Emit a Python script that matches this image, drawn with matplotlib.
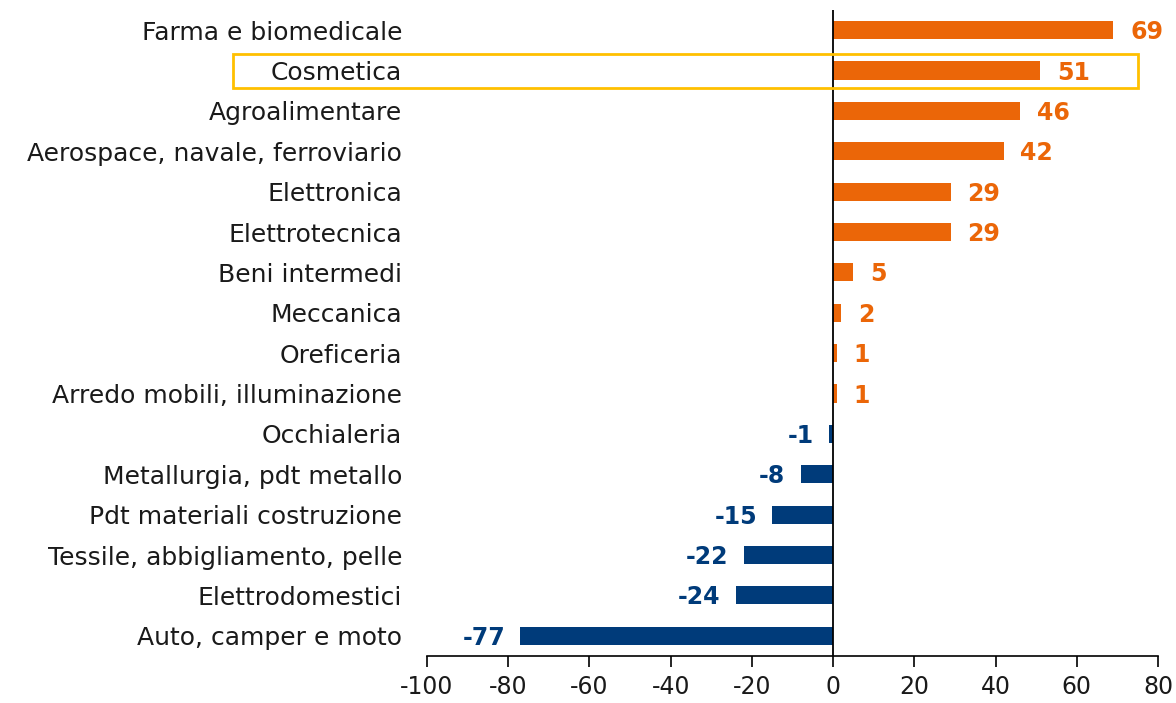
import matplotlib
matplotlib.use("Agg")
import matplotlib.pyplot as plt
from matplotlib.patches import Rectangle
import numpy as np

# Sectors, top to bottom as in the chart
sectors = [
    "Farma e biomedicale", "Cosmetica", "Agroalimentare",
    "Aerospace, navale, ferroviario", "Elettronica", "Elettrotecnica",
    "Beni intermedi", "Meccanica", "Oreficeria",
    "Arredo mobili, illuminazione", "Occhialeria", "Metallurgia, pdt metallo",
    "Pdt materiali costruzione", "Tessile, abbigliamento, pelle",
    "Elettrodomestici", "Auto, camper e moto",
]
values = [69, 51, 46, 42, 29, 29, 5, 2, 1, 1, -1, -8, -15, -22, -24, -77]
highlight = "Cosmetica"

ORANGE = "#EB6608"
NAVY = "#003B7A"
BOX = "#FFC000"

plt.rcParams["font.family"] = ["DejaVu Sans"]
plt.rcParams["axes.unicode_minus"] = False

fig = plt.figure(figsize=(11.76, 7.03), dpi=100)
ax = fig.add_axes([0.3631, 0.0669, 0.6216, 0.9189])

y = np.arange(len(sectors))[::-1]
colors = [ORANGE if v >= 0 else NAVY for v in values]
ax.barh(y, values, height=0.45, color=colors, zorder=2)

for yi, v, c in zip(y, values, colors):
    if v >= 0:
        ax.annotate(str(v), (v, yi), xytext=(12, -1.5), textcoords="offset points",
                    ha="left", va="center", color=c, fontsize=17, fontweight="bold")
    else:
        ax.annotate(str(v), (v, yi), xytext=(-11, -1.5), textcoords="offset points",
                    ha="right", va="center", color=c, fontsize=17, fontweight="bold")

ax.set_xlim(-100, 80)
ax.set_ylim(-0.5, len(sectors) - 0.5)
ax.set_xticks(range(-100, 81, 20))
ax.set_yticks(y)
ax.set_yticklabels(sectors, fontsize=18, color="#1a1a1a")
ax.tick_params(axis="y", length=0, pad=18)
ax.tick_params(axis="x", length=8, width=1.2, labelsize=17, pad=6, labelcolor="#1a1a1a")

for s in ["top", "right", "left"]:
    ax.spines[s].set_visible(False)
ax.spines["bottom"].set_linewidth(1.2)
ax.axvline(0, color="black", linewidth=1.3, zorder=3)

# box around the highlighted row
hy = y[sectors.index(highlight)]
ax.add_patch(Rectangle((-147.8, hy - 0.42), 222.8, 0.84, fill=False,
                       edgecolor=BOX, linewidth=2, clip_on=False, zorder=4))

fig.savefig("out.png", dpi=100)
